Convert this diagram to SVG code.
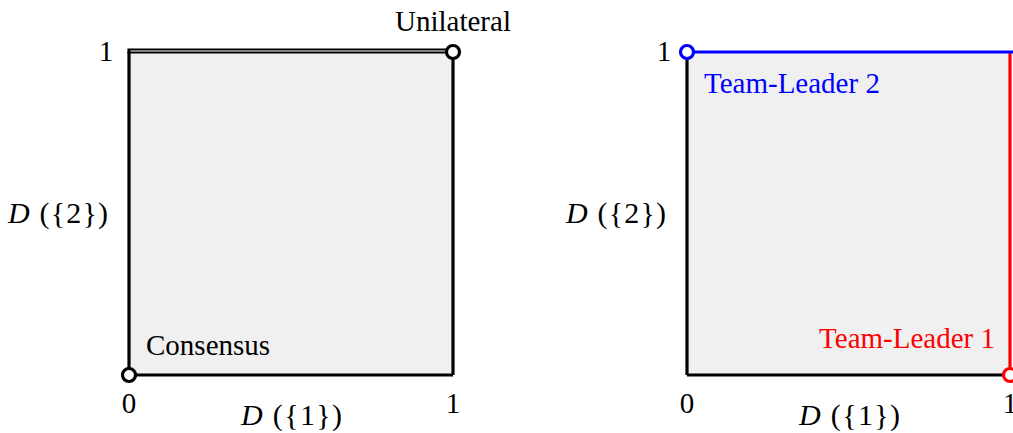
<svg xmlns="http://www.w3.org/2000/svg" width="1013" height="433" viewBox="0 0 1013 433">
<style>
text{font-family:"Liberation Serif","Times New Roman",serif;font-size:29px;fill:#000}
.it{font-style:italic}
.mid{text-anchor:middle}
.math{font-size:30px}
.edge{stroke:#000;stroke-width:3.2;fill:none}
.pt{fill:#fff;stroke-width:3.2}
</style>
<rect width="1013" height="433" fill="#fff"/>
<g id="left-panel">
  <rect x="129" y="52" width="324" height="323" fill="#f0f0f0"/>
  <g id="left-edges">
    <line class="edge" x1="129" y1="52" x2="129" y2="375"/>
    <line class="edge" x1="129" y1="375" x2="453" y2="375"/>
    <line class="edge" x1="453" y1="52" x2="453" y2="375"/>
    <line x1="127.4" y1="51" x2="453" y2="51" stroke="#000" stroke-width="5"/>
    <line x1="130.5" y1="51" x2="453" y2="51" stroke="#fff" stroke-width="1"/>
  </g>
  <g id="consensus-node">
    <circle class="pt" cx="129" cy="375" r="6.5" stroke="#000"/>
    <text x="146" y="355">Consensus</text>
  </g>
  <g id="unilateral-node">
    <circle class="pt" cx="453" cy="52" r="6.5" stroke="#000"/>
    <text x="453" y="31" class="mid">Unilateral</text>
  </g>
  <text x="106" y="61" class="mid">1</text>
  <text x="129" y="413" class="mid">0</text>
  <text x="453" y="413" class="mid">1</text>
  <text x="8" y="223" class="math" textLength="100" lengthAdjust="spacing"><tspan class="it">D</tspan> ({2})</text>
  <text x="241" y="425" class="math" textLength="101" lengthAdjust="spacing"><tspan class="it">D</tspan> ({1})</text>
</g>
<g id="right-panel">
  <rect x="687" y="52" width="323" height="323" fill="#f0f0f0"/>
  <g id="right-edges">
    <line class="edge" x1="687" y1="52" x2="687" y2="375"/>
    <line class="edge" x1="687" y1="375" x2="1010" y2="375"/>
    <line x1="1010" y1="52" x2="1010" y2="375" stroke="#f00" stroke-width="3.2"/>
    <line x1="687" y1="52" x2="1013" y2="52" stroke="#00f" stroke-width="3.2"/>
  </g>
  <g id="team-leader-2">
    <circle class="pt" cx="687" cy="52" r="6.5" stroke="#00f"/>
    <text x="704" y="93" style="fill:#00f">Team-Leader 2</text>
  </g>
  <g id="team-leader-1">
    <circle class="pt" cx="1010" cy="375" r="6.5" stroke="#f00"/>
    <text x="995" y="348" style="fill:#f00;text-anchor:end">Team-Leader 1</text>
  </g>
  <text x="664" y="61" class="mid">1</text>
  <text x="687" y="413" class="mid">0</text>
  <text x="1010" y="413" class="mid">1</text>
  <text x="566" y="223" class="math" textLength="100" lengthAdjust="spacing"><tspan class="it">D</tspan> ({2})</text>
  <text x="799" y="425" class="math" textLength="101" lengthAdjust="spacing"><tspan class="it">D</tspan> ({1})</text>
</g>
</svg>
